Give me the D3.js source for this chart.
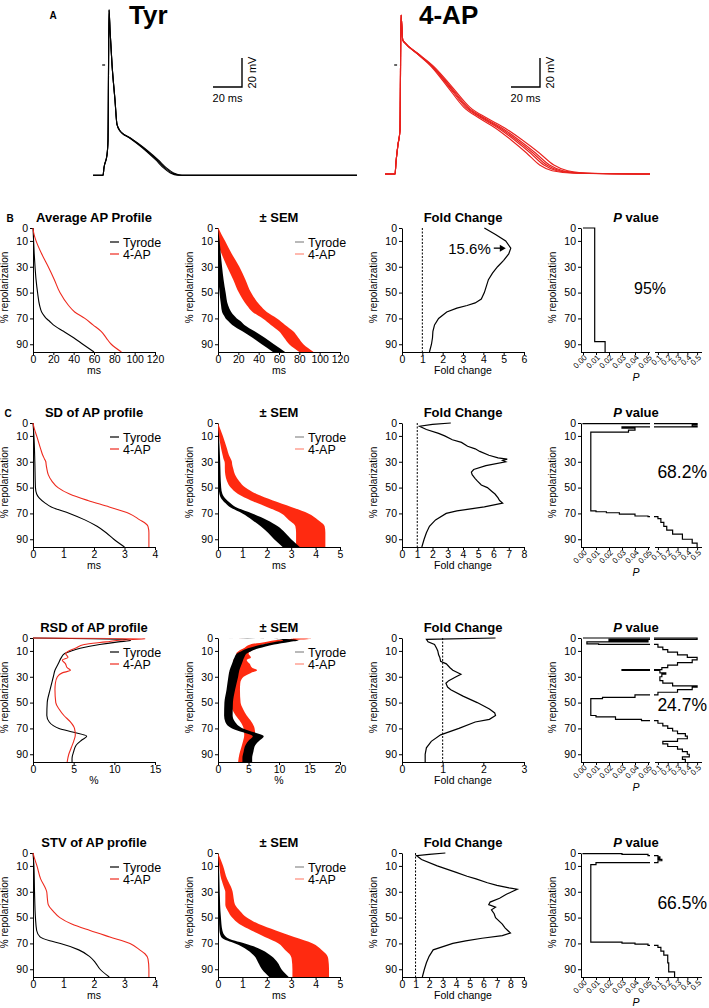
<!DOCTYPE html>
<html>
<head>
<meta charset="utf-8">
<script src="https://cdn.jsdelivr.net/npm/d3@7"></script>
<style>
  body { margin: 0; background: #fff; }
  svg { display: block; }
  text { font-family: Arial, "Liberation Sans", Helvetica, sans-serif; }
</style>
</head>
<body>
<svg id="fig" width="709" height="1008"></svg>
<script>
// ---------------- panel A : action potential traces (ms from upstroke, mV) ----------------
var tyrTrace = [[-10.3,-76],[-3.4,-76],[-2.8,-71],[-0.7,-62],[0,-52],[0.7,38],[1.4,24],[2.8,0],[4.8,-24],[6.2,-41],[8.3,-45.5],[9.7,-47],[15.2,-50.3],[20,-53.8],[26.9,-59.3],[33.8,-65.5],[39.3,-71],[44.1,-74.5],[49.7,-76],[171.7,-76]];
var tyrSpread = [0.97, 1.0, 1.03];
var apTrace = [[-10.3,-75.2],[-3.4,-75.2],[-2.8,-67.6],[-1.4,-55],[0,-44.8],[0.7,34.5],[1.9,17.2],[3.4,15.2],[11.5,8.3],[22.8,-1.4],[34.5,-15.2],[46,-29],[57.2,-36.6],[69,-43.4],[80.5,-51.7],[91.7,-60.7],[101.2,-69],[110.3,-72.9],[126.2,-74.7],[172.4,-75.2]];
var apSpread = [0.95, 0.98, 1.0, 1.02, 1.05];

// ---------------- profiles : [ % repolarization, value, SEM ] ----------------
var avgTyr = [[0,0,0],[5,0.3,0.5],[10,0.6,1],[20,1.2,1.5],[30,2,2],[40,3,2.5],[50,4.5,3],[60,6.5,3.5],[65,8.5,4.5],[68,11,5],[70,13,5.5],[72,16,6],[75,20,6],[80,30,6],[85,40,6],[90,49,6],[96,60,6]];
var avgAP  = [[0,0,0.5],[5,1,2.5],[10,3,4],[20,8.5,5],[30,15,6],[40,21,6],[50,26.5,6],[60,35,6.5],[65,41,7],[70,51,7],[75,59,7],[80,67,7],[85,72,7],[90,77,7],[96,87,7]];

var sdTyr = [[0,0,0],[10,0.03,0.01],[30,0.06,0.03],[50,0.08,0.05],[55,0.12,0.06],[58,0.2,0.08],[62,0.4,0.1],[65,0.6,0.12],[70,1.2,0.2],[75,1.7,0.3],[80,2.1,0.35],[85,2.4,0.35],[90,2.65,0.35],[96,3.0,0.35]];
var sdAP  = [[0,0,0],[5,0.05,0.05],[10,0.12,0.08],[20,0.25,0.12],[25,0.32,0.13],[28,0.38,0.15],[30,0.42,0.15],[32,0.43,0.15],[35,0.45,0.17],[40,0.5,0.2],[45,0.62,0.25],[50,0.82,0.3],[55,1.2,0.38],[60,1.8,0.45],[65,2.5,0.5],[70,3.15,0.55],[75,3.5,0.6],[78,3.7,0.6],[80,3.77,0.6],[85,3.8,0.6],[90,3.8,0.6],[96,3.8,0.6]];

var rsdTyr = [[0,0,0.3],[1,11,1],[2,12,1.2],[3,10.5,1.2],[5,8.2,1],[8,5.8,0.9],[10,4.7,0.8],[12,3.9,0.8],[15,3.5,0.8],[20,3.1,0.8],[25,2.7,0.8],[30,2.5,0.8],[40,2.1,0.7],[50,1.75,0.7],[60,1.7,0.7],[65,2.0,0.8],[70,3.2,0.9],[73,5.0,0.9],[76,6.6,0.9],[79,6.0,0.9],[83,5.3,0.8],[88,5.0,0.8],[93,4.8,0.8],[96,4.8,0.8]];
var rsdAP  = [[0,0,0.5],[0.5,13.8,1.5],[1.5,11,1.3],[3,9,1.2],[5,6.3,1],[8,5.2,1],[10,4.4,1],[12,4.0,1],[15,4.3,1.1],[17,3.6,1.1],[20,4.0,1.2],[23,4.2,1.4],[25,4.6,1.8],[27,3.6,1.8],[30,3.0,1.2],[35,2.75,0.9],[40,2.7,0.9],[50,2.8,0.9],[55,3.2,0.9],[60,3.8,0.9],[65,4.6,0.9],[70,5.1,0.9],[75,5.2,0.9],[80,5.0,0.9],[85,4.7,0.9],[90,4.4,0.9],[96,4.2,0.9]];

var stvTyr = [[0,0,0],[10,0.03,0.01],[30,0.05,0.02],[50,0.08,0.04],[60,0.12,0.06],[65,0.23,0.1],[68,0.55,0.15],[70,0.9,0.2],[75,1.5,0.3],[80,1.85,0.35],[85,2.05,0.4],[90,2.2,0.4],[96,2.5,0.4]];
var stvAP  = [[0,0,0],[5,0.06,0.05],[10,0.13,0.08],[20,0.25,0.12],[28,0.42,0.15],[30,0.45,0.15],[35,0.47,0.17],[40,0.5,0.2],[45,0.66,0.25],[50,0.88,0.3],[55,1.27,0.4],[60,1.87,0.5],[65,2.52,0.6],[70,3.18,0.7],[75,3.5,0.75],[78,3.67,0.75],[82,3.77,0.75],[90,3.8,0.75],[96,3.8,0.75]];

// ---------------- fold change : [ % repolarization, fold ] ----------------
var foldB  = [[0,4.05],[5,4.6],[10,5.1],[15.6,5.35],[20,5.25],[25,5.0],[30,4.7],[35,4.45],[40,4.25],[45,4.15],[50,4.05],[55,3.9],[58,3.6],[60,3.2],[62,2.7],[65,2.2],[70,1.8],[75,1.6],[80,1.52],[85,1.5],[90,1.45],[96,1.35]];
var foldC1 = [[0,3.2],[1,2.0],[2.5,1.15],[5,1.6],[8,2.4],[10,2.8],[13,3.3],[15,3.9],[18,4.3],[20,4.8],[22,5.1],[25,5.7],[27,6.3],[28,6.9],[29,6.6],[30,6.8],[33,5.5],[36,4.7],[38,4.55],[40,4.6],[43,4.8],[45,4.95],[48,5.2],[50,5.6],[53,5.9],[55,6.1],[58,6.3],[60,6.4],[62,6.6],[65,5.4],[68,3.6],[70,2.9],[75,2.2],[80,1.8],[85,1.6],[90,1.45],[96,1.3]];
var foldC2 = [[0,2.3],[1,0.6],[3,0.64],[5,0.8],[8,0.85],[10,0.88],[13,0.9],[15,0.93],[18,0.95],[20,1.09],[23,1.18],[25,1.25],[28,1.45],[30,1.33],[33,1.15],[35,1.08],[38,1.12],[40,1.2],[45,1.5],[50,1.85],[55,2.15],[58,2.28],[60,2.3],[63,2.15],[65,1.8],[70,1.4],[75,0.95],[80,0.72],[85,0.6],[90,0.57],[96,0.57]];
var foldC3 = [[0,3.2],[1,2.0],[2,1.07],[5,1.44],[10,2.6],[15,4.0],[18,4.8],[20,5.46],[23,6.3],[25,7.0],[27,7.9],[28,8.5],[30,8.1],[32,7.7],[35,7.2],[38,6.5],[40,6.4],[42,6.9],[44,6.6],[47,6.8],[50,6.9],[55,7.4],[58,7.6],[60,7.8],[62,8.0],[64,7.4],[66,5.9],[68,4.7],[70,3.75],[75,2.3],[80,2.0],[85,1.8],[90,1.65],[96,1.5]];

// ---------------- P value steps : [ % repolarization where step starts, P ] ----------------
var pB  = [[0,0],[0,0.009],[88,0.017],[96,0.017]];
var pC1 = [[0,0],[0.5,0.5],[1.5,0.45],[2.5,0.5],[3,0.03],[4,0.04],[5.5,0.035],[7,0.006],[68,0.01],[68.7,0.018],[69.5,0.028],[70.5,0.04],[72,0.05],[72.5,0.1],[74,0.13],[77,0.16],[80,0.19],[83,0.25],[86,0.35],[90,0.45],[93,0.5],[96,0.5]];
var pC2 = [[0,0],[0,0.5],[1,0.02],[2,0.05],[3,0.003],[4.5,0.012],[5,0.1],[7,0.15],[9,0.2],[11,0.3],[13,0.4],[15,0.5],[17,0.45],[19,0.3],[21,0.2],[23,0.14],[24.5,0.03],[25,0.12],[27,0.18],[28,0.14],[30,0.12],[33,0.15],[35,0.25],[37,0.5],[38,0.45],[40,0.3],[42,0.1],[44,0.04],[46,0.015],[47,0.006],[60,0.01],[61,0.025],[63,0.045],[64,0.1],[66,0.15],[68,0.2],[70,0.25],[72,0.3],[74,0.38],[76,0.4],[78,0.3],[80,0.15],[82,0.2],[84,0.3],[86,0.35],[88,0.4],[90,0.42],[92,0.35],[94,0.38],[96,0.38]];
var pC3 = [[0,0],[0.5,0.03],[1,0.05],[2,0.1],[3,0.12],[4,0.1],[5,0.14],[6,0.1],[7.5,0.01],[9,0.006],[69,0.03],[69.7,0.04],[70.5,0.05],[71.5,0.1],[73,0.13],[76,0.16],[79,0.2],[85,0.21],[92,0.27],[96,0.27]];

var pctTicks = [0, 10, 30, 50, 70, 90];
var pTicks1 = [0, 0.01, 0.02, 0.03, 0.04, 0.05];
var pTicks2 = [0.1, 0.2, 0.3, 0.4, 0.5];

// ---------------- layout ----------------
var svg = d3.select("#fig");
var RED = "#ee2a1e", BAND_RED = "#ff2a10";
var colX = [33, 218, 402];
var pAxisX = 581;
var panelW = 122, plotH = 124;
var intFmt = d3.format("~g");

function axisStyle(sel){
  sel.selectAll("path,line").attr("stroke", "#000").attr("stroke-width", 1);
  sel.selectAll("text").attr("font-size", 10.5).attr("fill", "#000");
}

function yScale(y0){ return d3.scaleLinear().domain([0, 96]).range([y0, y0 + plotH]); }

function leftAxis(x0, y){
  svg.append("g").attr("transform", "translate(" + x0 + ",0)")
    .call(d3.axisLeft(y).tickValues(pctTicks).tickFormat(intFmt).tickSize(3).tickPadding(2).tickSizeOuter(0)).call(axisStyle);
  svg.append("text").attr("transform", "translate(" + (x0 - 25) + "," + y(46) + ") rotate(-90)")
    .attr("text-anchor", "middle").attr("font-size", 10).text("% repolarization");
}

function title(cx, y0, txt){
  svg.append("text").attr("x", cx).attr("y", y0 - 6).attr("text-anchor", "middle")
    .attr("font-size", 13).attr("font-weight", "bold").text(txt);
}

function legend(x0, y0, faded){
  [["Tyrode", faded ? "#8a8a8a" : "#000"], ["4-AP", faded ? "#ff8a7a" : RED]].forEach(function(l, i){
    var yy = y0 + 14 + i*12;
    svg.append("line").attr("x1", x0 + 77).attr("x2", x0 + 86).attr("y1", yy).attr("y2", yy)
      .attr("stroke", l[1]).attr("stroke-width", 1.2);
    svg.append("text").attr("x", x0 + 90).attr("y", yy + 4.5).attr("font-size", 12.5).text(l[0]);
  });
}

function profilePanel(x0, y0, xMax, xTicks, xLabel, ttl, tyr, ap, band){
  var y = yScale(y0);
  var x = d3.scaleLinear().domain([0, xMax]).range([x0, x0 + panelW]);
  svg.append("g").attr("transform", "translate(0," + (y0 + plotH) + ")")
    .call(d3.axisBottom(x).tickValues(xTicks).tickFormat(intFmt).tickSize(3).tickPadding(1).tickSizeOuter(0)).call(axisStyle);
  svg.append("text").attr("x", x0 + panelW/2).attr("y", y0 + plotH + 22).attr("text-anchor", "middle")
    .attr("font-size", 10.5).text(xLabel);
  leftAxis(x0, y);
  title(x0 + panelW/2, y0, ttl);

  if(band){
    var area = d3.area().curve(d3.curveMonotoneY).y(function(d){ return y(d[0]); })
      .x0(function(d){ return x(Math.max(0, d[1] - d[2])); })
      .x1(function(d){ return x(d[1] + d[2]); });
    svg.append("path").datum(ap).attr("d", area).attr("fill", BAND_RED);
    svg.append("path").datum(tyr).attr("d", area).attr("fill", "#000");
  } else {
    var line = d3.line().curve(d3.curveMonotoneY).y(function(d){ return y(d[0]); }).x(function(d){ return x(d[1]); });
    svg.append("path").datum(tyr).attr("d", line).attr("fill", "none").attr("stroke", "#000").attr("stroke-width", 1.1);
    svg.append("path").datum(ap).attr("d", line).attr("fill", "none").attr("stroke", RED).attr("stroke-width", 1.1);
  }
  legend(x0, y0, band);
}

function foldPanel(y0, xMax, data){
  var x0 = colX[2];
  var y = yScale(y0);
  var x = d3.scaleLinear().domain([0, xMax]).range([x0, x0 + panelW]);
  svg.append("g").attr("transform", "translate(0," + (y0 + plotH) + ")")
    .call(d3.axisBottom(x).tickValues(d3.range(0, xMax + 1)).tickFormat(intFmt).tickSize(3).tickPadding(1).tickSizeOuter(0)).call(axisStyle);
  svg.append("text").attr("x", x0 + panelW/2).attr("y", y0 + plotH + 22).attr("text-anchor", "middle")
    .attr("font-size", 10.5).text("Fold change");
  leftAxis(x0, y);
  title(x0 + panelW/2, y0, "Fold Change");
  svg.append("line").attr("x1", x(1)).attr("x2", x(1)).attr("y1", y(0)).attr("y2", y(96))
    .attr("stroke", "#000").attr("stroke-width", 1).attr("stroke-dasharray", "2,1.5");
  svg.append("path").datum(data)
    .attr("d", d3.line().y(function(d){ return y(d[0]); }).x(function(d){ return x(d[1]); }))
    .attr("fill", "none").attr("stroke", "#000").attr("stroke-width", 1.2);
  return { x: x, y: y };
}

// broken P axis: 0-0.05 then 0.1-0.5
var pSeg1 = d3.scaleLinear().domain([0, 0.05]).range([583, 648]);
var pSeg2 = d3.scaleLinear().domain([0.07, 0.55]).range([655, 702]);
function pX(p){ return p <= 0.05 ? pSeg1(p) : pSeg2(p); }
var clipN = 0;

function pPanel(y0, data, pctText, txtDy, txtSize, anchor){
  var y = yScale(y0);
  var yb = y0 + plotH;
  leftAxis(pAxisX, y);
  var t = svg.append("text").attr("x", 636).attr("y", y0 - 6).attr("text-anchor", "middle")
    .attr("font-size", 13).attr("font-weight", "bold");
  t.append("tspan").attr("font-style", "italic").text("P");
  t.append("tspan").text(" value");

  [[pSeg1, pTicks1, ".2f", pAxisX, 650], [pSeg2, pTicks2, ".1f", 655, 702]].forEach(function(s){
    var ax = svg.append("g").attr("transform", "translate(0," + yb + ")")
      .call(d3.axisBottom(s[0]).tickValues(s[1]).tickFormat(d3.format(s[2])).tickSize(3).tickSizeOuter(0));
    ax.select(".domain").remove();
    ax.append("line").attr("x1", s[3]).attr("x2", s[4]).attr("y1", 0.5).attr("y2", 0.5);
    ax.call(axisStyle);
    ax.selectAll("text").attr("font-size", 8).attr("text-anchor", "end")
      .attr("dy", "0.35em").attr("transform", "translate(2,4) rotate(-45)").attr("y", 0);
  });
  svg.append("text").attr("x", 636).attr("y", yb + 29).attr("text-anchor", "middle")
    .attr("font-size", 10.5).attr("font-style", "italic").text("P");

  var line = d3.line().curve(d3.curveStepBefore).x(function(d){ return pX(d[1]); }).y(function(d){ return y(d[0]); });
  [[pAxisX - 2, 650], [654, 709]].forEach(function(r){
    var id = "pclip" + (clipN++);
    svg.append("clipPath").attr("id", id).append("rect")
      .attr("x", r[0]).attr("width", r[1] - r[0]).attr("y", y0 - 4).attr("height", plotH + 8);
    svg.append("path").datum(data).attr("d", line).attr("clip-path", "url(#" + id + ")")
      .attr("fill", "none").attr("stroke", "#000").attr("stroke-width", 1.2);
  });

  svg.append("text").attr("x", anchor == "end" ? 707 : 650).attr("y", y0 + txtDy)
    .attr("text-anchor", anchor).attr("font-size", txtSize).text(pctText);
}

// ---------------- panel A ----------------
svg.append("text").attr("x", 53).attr("y", 19).attr("text-anchor", "middle").attr("font-size", 10).attr("font-weight", "bold").text("A");

function spreadTrace(tr, s, t0){
  return tr.map(function(d, i){ return (d[0] > t0 && i < tr.length - 1) ? [t0 + (d[0] - t0)*s, d[1]] : d; });
}

function apPanel(trace, spread, t0, upX, color, label, labelX, barX){
  var tx = d3.scaleLinear().domain([0, 20]).range([upX, upX + 29]);
  var vy = d3.scaleLinear().domain([0, 20]).range([65, 36]);
  var line = d3.line().curve(d3.curveMonotoneX).x(function(d){ return tx(d[0]); }).y(function(d){ return vy(d[1]); });
  spread.forEach(function(s){
    svg.append("path").datum(spreadTrace(trace, s, t0)).attr("d", line)
      .attr("fill", "none").attr("stroke", color).attr("stroke-width", 1.1);
  });
  // 0 mV marker
  svg.append("line").attr("x1", tx(-4)).attr("x2", tx(-2)).attr("y1", vy(0)).attr("y2", vy(0))
    .attr("stroke", "#000").attr("stroke-width", 1.2);
  svg.append("text").attr("x", labelX).attr("y", 24).attr("font-size", 26).attr("font-weight", "bold").text(label);
  // scale bar 20 ms / 20 mV
  var bw = tx(20) - tx(0), bh = vy(0) - vy(20);
  svg.append("path").attr("d", "M" + barX + ",87H" + (barX + bw) + "V" + (87 - bh))
    .attr("fill", "none").attr("stroke", "#000").attr("stroke-width", 1.4);
  svg.append("text").attr("x", barX + bw/2).attr("y", 102).attr("text-anchor", "middle").attr("font-size", 11).text("20 ms");
  svg.append("text").attr("transform", "translate(" + (barX + bw + 14) + "," + (87 - bh/2) + ") rotate(-90)")
    .attr("text-anchor", "middle").attr("font-size", 11).text("20 mV");
}
apPanel(tyrTrace, tyrSpread, 6, 108, "#000", "Tyr", 129, 213);
apPanel(apTrace, apSpread, 3.4, 400, "#e8201c", "4-AP", 419, 511);

// ---------------- row B ----------------
svg.append("text").attr("x", 10).attr("y", 222).attr("text-anchor", "middle").attr("font-size", 10).attr("font-weight", "bold").text("B");
profilePanel(colX[0], 228, 120, d3.range(0, 121, 20), "ms", "Average AP Profile", avgTyr, avgAP, false);
profilePanel(colX[1], 228, 120, d3.range(0, 121, 20), "ms", "\u00b1 SEM", avgTyr, avgAP, true);
var fb = foldPanel(228, 6, foldB);
var peak = foldB.reduce(function(a, b){ return b[1] > a[1] ? b : a; });
var ax2 = fb.x(peak[1]) - 5, ay = fb.y(peak[0]);
svg.append("line").attr("x1", ax2 - 12).attr("x2", ax2 - 5).attr("y1", ay).attr("y2", ay).attr("stroke", "#000").attr("stroke-width", 1.3);
svg.append("path").attr("d", "M" + ax2 + "," + ay + "l-6,-3.5v7z").attr("fill", "#000");
svg.append("text").attr("x", ax2 - 15).attr("y", ay + 5.5).attr("text-anchor", "end").attr("font-size", 15).text("15.6%");
pPanel(228, pB, "95%", 66, 16, "middle");

// ---------------- row C ----------------
svg.append("text").attr("x", 8).attr("y", 417).attr("text-anchor", "middle").attr("font-size", 10).attr("font-weight", "bold").text("C");
profilePanel(colX[0], 423, 4, d3.range(0, 5), "ms", "SD of AP profile", sdTyr, sdAP, false);
profilePanel(colX[1], 423, 5, d3.range(0, 6), "ms", "\u00b1 SEM", sdTyr, sdAP, true);
foldPanel(423, 8, foldC1);
pPanel(423, pC1, "68.2%", 55, 17.5, "end");

profilePanel(colX[0], 638, 15, [0, 5, 10, 15], "%", "RSD of AP profile", rsdTyr, rsdAP, false);
profilePanel(colX[1], 638, 20, [0, 5, 10, 15, 20], "%", "\u00b1 SEM", rsdTyr, rsdAP, true);
foldPanel(638, 3, foldC2);
pPanel(638, pC2, "24.7%", 73, 17.5, "end");

profilePanel(colX[0], 853, 4, d3.range(0, 5), "ms", "STV of AP profile", stvTyr, stvAP, false);
profilePanel(colX[1], 853, 5, d3.range(0, 6), "ms", "\u00b1 SEM", stvTyr, stvAP, true);
foldPanel(853, 9, foldC3);
pPanel(853, pC3, "66.5%", 56, 17.5, "end");
</script>
</body>
</html>
